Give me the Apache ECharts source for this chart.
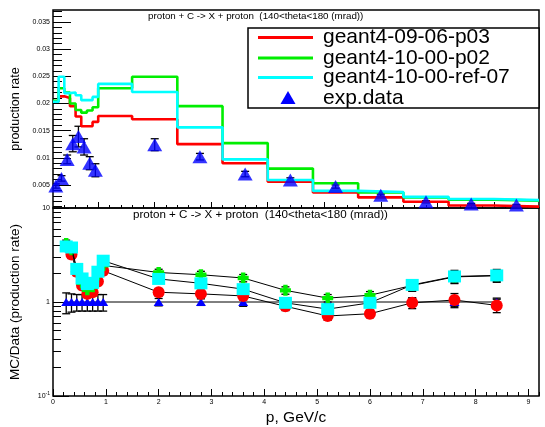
<!DOCTYPE html>
<html><head><meta charset="utf-8">
<script src="https://cdn.jsdelivr.net/npm/echarts@6/dist/echarts.min.js"></script>
<style>html,body{margin:0;padding:0;background:#fff}#c{width:545px;height:427px}</style>
</head><body><div id="c"></div>
<script>
// ---------- data ----------
const seriesNames = ['geant4-09-06-p03', 'geant4-10-00-p02', 'geant4-10-00-ref-07', 'exp.data'];
const titleText = 'proton + C -> X + proton  (140<theta<180 (mrad))';
const topYTitle = 'production rate';
const botYTitle = 'MC/Data (production rate)';
const xTitle = 'p, GeV/c';

// histogram bin edges (GeV/c)
const binEdges = [0.2, 0.3, 0.4, 0.5, 0.6, 0.7, 0.8, 0.9, 1.0, 1.6, 2.4, 3.2, 4.0, 4.8, 5.6, 6.4, 7.2, 8.0, 8.8];
const rate0906 = [0.0203, 0.0213, 0.0210, 0.0195, 0.0176, 0.0158, 0.0158, 0.0166, 0.0177, 0.0171, 0.0125, 0.0090, 0.0056, 0.0036, 0.0027, 0.0019, 0.0012, 0.0010];
const rate1000 = [0.0205, 0.0228, 0.0220, 0.0200, 0.0188, 0.0183, 0.0187, 0.0193, 0.0228, 0.0249, 0.0195, 0.0127, 0.0080, 0.0053, 0.0036, 0.0027, 0.0023, 0.0021];
const rateRef07 = [0.0203, 0.0249, 0.0219, 0.0220, 0.0215, 0.0206, 0.0206, 0.0212, 0.0236, 0.0221, 0.0156, 0.0097, 0.0059, 0.0039, 0.0037, 0.0028, 0.0024, 0.0022];

// experimental points
const dataP = [0.25, 0.35, 0.45, 0.55, 0.65, 0.75, 0.85, 0.95, 2.0, 2.8, 3.6, 4.4, 5.2, 6.0, 6.8, 7.6, 8.4];
const dataRate = [0.0048, 0.0062, 0.0097, 0.0126, 0.0139, 0.0120, 0.0090, 0.0077, 0.0124, 0.0102, 0.0070, 0.0059, 0.0047, 0.0031, 0.0019, 0.0015, 0.0013];
const dataRateErr = [0.0004, 0.0005, 0.0008, 0.0015, 0.0019, 0.0015, 0.0012, 0.0012, 0.0011, 0.0006, 0.0005, 0.0004, 0.0003, 0.0002, 0.0002, 0.0001, 0.0001];

// MC / data ratios
const ratio0906 = [3.9, 3.2, 2.1, 1.5, 1.22, 1.27, 1.65, 2.15, 1.27, 1.22, 1.16, 0.90, 0.71, 0.75, 0.98, 1.05, 0.92];
const ratio0906Err = [0.35, 0.3, 0.2, 0.14, 0.11, 0.11, 0.15, 0.2, 0.12, 0.11, 0.11, 0.09, 0.07, 0.07, 0.13, 0.18, 0.15];
const ratio1000 = [4.2, 3.6, 2.2, 1.6, 1.35, 1.45, 1.95, 2.45, 2.06, 1.95, 1.80, 1.33, 1.10, 1.18, 1.50, 1.85, 1.90];
const ratio1000Err = [0.35, 0.3, 0.2, 0.14, 0.12, 0.13, 0.18, 0.22, 0.17, 0.17, 0.16, 0.12, 0.1, 0.11, 0.2, 0.25, 0.25];
const ratioRef07 = [3.9, 3.8, 2.25, 1.78, 1.55, 1.6, 2.1, 2.75, 1.76, 1.58, 1.37, 0.98, 0.84, 0.98, 1.52, 1.87, 1.92];
const ratioRef07Err = [0.35, 0.35, 0.2, 0.15, 0.13, 0.13, 0.2, 0.25, 0.15, 0.14, 0.13, 0.1, 0.09, 0.1, 0.2, 0.3, 0.3];
const ratioData = [1, 1, 1, 1, 1, 1, 1, 1, 1, 1, 1, 1, 1, 1, 1, 1, 1];
const ratioDataErr = [0.25, 0.22, 0.2, 0.2, 0.2, 0.2, 0.2, 0.2, 0.09, 0.08, 0.1, 0.1, 0.1, 0.1, 0.1, 0.1, 0.1];

// tick labels
const topYLabels = [0.005, 0.01, 0.015, 0.02, 0.025, 0.03, 0.035];
const botYLabels = [0.1, 1, 10];
const botXLabels = [0, 1, 2, 3, 4, 5, 6, 7, 8, 9];
const topXMajor = [1, 2, 3, 4, 5, 6, 7, 8];

// ---------- helpers ----------
const RED = '#ff0000', GREEN = '#00ee00', CYAN = '#00ffff', BLUE = '#0000ff';
const FONT = 'Liberation Sans, Arial, sans-serif';
function rng(a, b, s) { const o = []; for (let v = a; v <= b + 1e-9; v += s) o.push(+v.toFixed(4)); return o; }
function histData(vals) {
  const d = vals.map((v, i) => [binEdges[i], v]);
  d.push([binEdges[binEdges.length - 1], vals[vals.length - 1]]);
  return d;
}
function errData(xs, ys, es) { return xs.map((x, i) => [x, ys[i], es[i]]); }
function ptData(xs, ys) { return xs.map((x, i) => [x, ys[i]]); }
function errSeries(xi, yi, data, cap) {
  return {
    type: 'custom', xAxisIndex: xi, yAxisIndex: yi, data: data, clip: true, silent: true,
    renderItem: function (params, api) {
      const x = api.value(0), y = api.value(1), e = api.value(2);
      const lo = api.coord([x, y - e]), hi = api.coord([x, y + e]);
      const st = { stroke: '#000', lineWidth: 1.3 };
      return {
        type: 'group', children: [
          { type: 'line', shape: { x1: lo[0], y1: lo[1], x2: hi[0], y2: hi[1] }, style: st },
          { type: 'line', shape: { x1: lo[0] - cap, y1: lo[1], x2: lo[0] + cap, y2: lo[1] }, style: st },
          { type: 'line', shape: { x1: hi[0] - cap, y1: hi[1], x2: hi[0] + cap, y2: hi[1] }, style: st }
        ]
      };
    }
  };
}

const L = 53, R = 6, T1 = 10, H1 = 198, T2 = 208, H2 = 198;
const PLUS = 'path://M3,0H7V3H10V7H7V10H3V7H0V3H3Z';

const tickLbl = { fontSize: 7, color: '#000', fontFamily: FONT };
const option = {
  animation: false,
  backgroundColor: '#fff',
  grid: [
    { left: L, right: R, top: T1, height: H1, show: true, borderColor: '#000', borderWidth: 1.5, backgroundColor: 'transparent' },
    { left: L, right: R, top: T2, height: H2, show: true, borderColor: '#000', borderWidth: 1.5, backgroundColor: 'transparent' }
  ],
  xAxis: [
    { type: 'value', gridIndex: 0, min: 0.2, max: 8.8, axisLine: { show: false }, splitLine: { show: false },
      axisTick: { show: true, inside: true, length: 6, customValues: topXMajor, lineStyle: { color: '#000' } },
      axisLabel: { show: false } },
    { type: 'value', gridIndex: 0, position: 'bottom', min: 0.2, max: 8.8, axisLine: { show: false }, splitLine: { show: false },
      axisTick: { show: true, inside: true, length: 3, customValues: rng(0.4, 8.6, 0.2), lineStyle: { color: '#000' } },
      axisLabel: { show: false } },
    { type: 'value', gridIndex: 1, min: 0, max: 9.2, axisLine: { show: false }, splitLine: { show: false },
      axisTick: { show: true, inside: true, length: 7, customValues: botXLabels, lineStyle: { color: '#000' } },
      axisLabel: { show: true, customValues: botXLabels, margin: 3, ...tickLbl },
      name: xTitle, nameLocation: 'middle', nameGap: 14,
      nameTextStyle: { fontSize: 15.5, color: '#000', fontFamily: FONT } },
    { type: 'value', gridIndex: 1, position: 'bottom', min: 0, max: 9.2, axisLine: { show: false }, splitLine: { show: false },
      axisTick: { show: true, inside: true, length: 4, customValues: rng(0.2, 9.2, 0.2), lineStyle: { color: '#000' } },
      axisLabel: { show: false } }
  ],
  yAxis: [
    { type: 'value', gridIndex: 0, min: 0.00075, max: 0.0372, axisLine: { show: false }, splitLine: { show: false },
      axisTick: { show: true, inside: true, length: 18, customValues: topYLabels, lineStyle: { color: '#000' } },
      axisLabel: { show: true, customValues: topYLabels, margin: 3, formatter: v => String(v), ...tickLbl },
      name: topYTitle, nameLocation: 'middle', nameGap: 26, nameRotate: 90,
      nameTextStyle: { fontSize: 12.5, color: '#000', fontFamily: FONT } },
    { type: 'value', gridIndex: 0, position: 'left', min: 0.00075, max: 0.0372, axisLine: { show: false }, splitLine: { show: false },
      axisTick: { show: true, inside: true, length: 9, customValues: rng(0.001, 0.037, 0.001), lineStyle: { color: '#000' } },
      axisLabel: { show: false } },
    { type: 'log', gridIndex: 1, min: 0.1, max: 10, logBase: 10, axisLine: { show: false }, splitLine: { show: false },
      axisTick: { show: true, inside: true, length: 16, customValues: botYLabels, lineStyle: { color: '#000' } },
      axisLabel: { show: true, customValues: botYLabels, margin: 3, ...tickLbl,
        formatter: v => (v < 0.5 ? '10{s|-1}' : String(Math.round(v))),
        rich: { s: { fontSize: 5, fontFamily: FONT, color: '#000', padding: [0, 0, 5, 0] } } },
      name: botYTitle, nameLocation: 'middle', nameGap: 31, nameRotate: 90,
      nameTextStyle: { fontSize: 13.5, color: '#000', fontFamily: FONT, padding: [0, 0, 0, 0] } },
    { type: 'log', gridIndex: 1, position: 'left', min: 0.1, max: 10, logBase: 10, axisLine: { show: false }, splitLine: { show: false },
      axisTick: { show: true, inside: true, length: 8,
        customValues: [0.2, 0.3, 0.4, 0.5, 0.6, 0.7, 0.8, 0.9, 2, 3, 4, 5, 6, 7, 8, 9], lineStyle: { color: '#000' } },
      axisLabel: { show: false } }
  ],
  series: [
    // top panel histograms
    { type: 'line', name: seriesNames[0], xAxisIndex: 0, yAxisIndex: 0, step: 'end', showSymbol: false, symbol: 'none',
      data: histData(rate0906), lineStyle: { color: RED, width: 2.6 }, clip: true },
    { type: 'line', name: seriesNames[1], xAxisIndex: 0, yAxisIndex: 0, step: 'end', showSymbol: false, symbol: 'none',
      data: histData(rate1000), lineStyle: { color: GREEN, width: 2.6 }, clip: true },
    { type: 'line', name: seriesNames[2], xAxisIndex: 0, yAxisIndex: 0, step: 'end', showSymbol: false, symbol: 'none',
      data: histData(rateRef07), lineStyle: { color: CYAN, width: 2.6 }, clip: true },
    errSeries(0, 0, errData(dataP, dataRate, dataRateErr), 4),
    { type: 'scatter', name: seriesNames[3], xAxisIndex: 0, yAxisIndex: 0, data: ptData(dataP, dataRate),
      symbol: 'triangle', symbolSize: [15, 13], itemStyle: { color: BLUE }, z: 5 },
    // bottom panel ratios
    errSeries(2, 2, errData(dataP, ratioData, ratioDataErr), 4),
    { type: 'line', xAxisIndex: 2, yAxisIndex: 2, data: ptData(dataP, ratioData), symbol: 'triangle', symbolSize: [10, 8],
      itemStyle: { color: BLUE }, lineStyle: { color: '#000', width: 1 }, z: 3 },
    errSeries(2, 2, errData(dataP, ratio0906, ratio0906Err), 4),
    { type: 'line', xAxisIndex: 2, yAxisIndex: 2, data: ptData(dataP, ratio0906), symbol: 'circle', symbolSize: 12,
      itemStyle: { color: RED }, lineStyle: { color: '#000', width: 1 }, z: 4 },
    errSeries(2, 2, errData(dataP, ratio1000, ratio1000Err), 4),
    { type: 'line', xAxisIndex: 2, yAxisIndex: 2, data: ptData(dataP, ratio1000), symbol: PLUS, symbolSize: 11,
      itemStyle: { color: GREEN }, lineStyle: { color: '#000', width: 1 }, z: 5 },
    errSeries(2, 2, errData(dataP, ratioRef07, ratioRef07Err), 4),
    { type: 'line', xAxisIndex: 2, yAxisIndex: 2, data: ptData(dataP, ratioRef07), symbol: 'rect', symbolSize: [13, 12],
      itemStyle: { color: CYAN }, lineStyle: { color: '#000', width: 1 }, z: 6 }
  ],
  graphic: [
    { type: 'text', left: 148, top: 11, z: 50, style: { text: titleText, fontSize: 9.8, fontFamily: FONT, fill: '#000' } },
    { type: 'text', left: 133, top: 209, z: 50, style: { text: titleText, fontSize: 11.6, fontFamily: FONT, fill: '#000' } },
    { type: 'rect', z: 40, shape: { x: 248, y: 28, width: 291, height: 80 }, style: { fill: '#fff', stroke: '#000', lineWidth: 1.5 } },
    { type: 'line', z: 41, shape: { x1: 258, y1: 37.5, x2: 313, y2: 37.5 }, style: { stroke: RED, lineWidth: 3 } },
    { type: 'line', z: 41, shape: { x1: 258, y1: 58, x2: 313, y2: 58 }, style: { stroke: GREEN, lineWidth: 3 } },
    { type: 'line', z: 41, shape: { x1: 258, y1: 77.5, x2: 313, y2: 77.5 }, style: { stroke: CYAN, lineWidth: 3 } },
    { type: 'polygon', z: 41, shape: { points: [[288, 91], [280.5, 104], [295.5, 104]] }, style: { fill: BLUE } },
    { type: 'text', z: 42, x: 323, y: 37.5, style: { text: seriesNames[0], fontSize: 21, fontFamily: FONT, fill: '#000', verticalAlign: 'middle' } },
    { type: 'text', z: 42, x: 323, y: 58, style: { text: seriesNames[1], fontSize: 21, fontFamily: FONT, fill: '#000', verticalAlign: 'middle' } },
    { type: 'text', z: 42, x: 323, y: 77.5, style: { text: seriesNames[2], fontSize: 21, fontFamily: FONT, fill: '#000', verticalAlign: 'middle' } },
    { type: 'text', z: 42, x: 323, y: 98, style: { text: seriesNames[3], fontSize: 21, fontFamily: FONT, fill: '#000', verticalAlign: 'middle' } }
  ]
};
const chart = echarts.init(document.getElementById('c'), null, { renderer: 'canvas' });
chart.setOption(option);
</script></body></html>
